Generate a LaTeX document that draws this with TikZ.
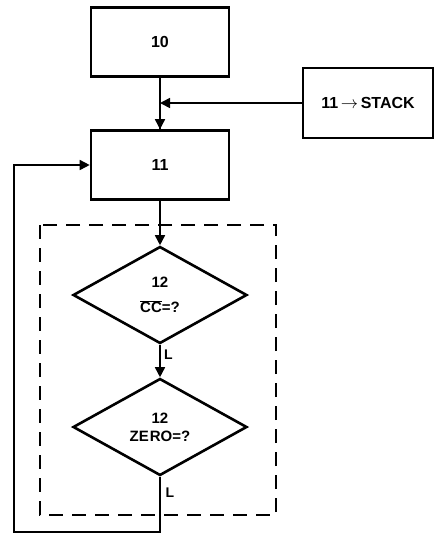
\documentclass[tikz,border=0pt]{standalone}
\usepackage{fontspec}
\setmainfont{Liberation Sans}
\usepackage{tikz}
\usetikzlibrary{shapes.geometric, arrows.meta}
\tikzset{
    procbox/.style={draw, line width=2.6pt, minimum width=138pt, minimum height=69pt,
        inner sep=0pt, font=\fontsize{16}{19}\selectfont\bfseries},
    testbox/.style={draw, diamond, line width=2.6pt, minimum width=174pt, minimum height=97pt,
        inner sep=0pt, align=center, font=\fontsize{15}{18}\selectfont\bfseries},
    flow/.style={line width=1.6pt, -{Triangle[length=10pt,width=10pt]}},
    plain/.style={line width=1.6pt},
    branch/.style={font=\fontsize{14}{16}\selectfont\bfseries}
}

\begin{document}
\begin{tikzpicture}[x=1pt, y=-1pt]
    \useasboundingbox (0,0) rectangle (434,542);
    \clip (0,0) rectangle (434,542);

    % boxes
    \node[procbox] (b10) at (160,42) {10};
    \node[procbox] (b11) at (160,165) {11};
    \node[procbox, minimum width=130pt, minimum height=70pt] (push) at (368,103)
        {11\,$\rightarrow$\,STACK};
    \coordinate (join) at (160,103);

    % tests
    \node[testbox] (cc) at (160,295) {12\\[7pt]$\overline{\hbox{CC}}$=?};
    \node[testbox] (zero) at (160,427) {12\\ZE\kern1ptRO=?};

    % dashed frame
    \draw[line width=2.6pt, dash pattern=on 14pt off 9pt] (40,225) rectangle (276,515);

    % connectors
    \draw[plain] (b10.south) -- (b11.north);
    \draw[flow] (join) -- (b11.north);
    \draw[flow] (push.west) -- (join);
    \draw[flow] (b11.south) -- (cc.north);
    \draw[flow] (cc.south) -- node[branch, right, pos=0.3] {L} (zero.north);

    % loop back
    \coordinate (lp1) at (160,532);
    \coordinate (lp2) at (14,532);
    \coordinate (lp3) at (14,165);
    \draw[flow] (zero.south) -- (lp1) -- (lp2) -- (lp3) -- (b11.west);
    \node[branch] (l2) at (170,493) {L};
\end{tikzpicture}
\end{document}
